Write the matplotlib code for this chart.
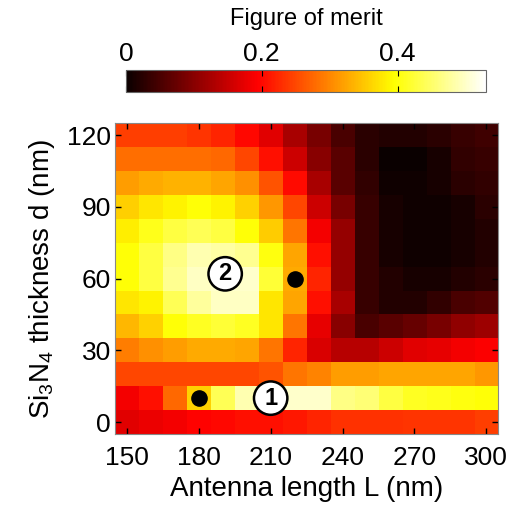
import numpy as np
import matplotlib.pyplot as plt

plt.rcParams['font.family'] = ['Liberation Sans', 'DejaVu Sans']
plt.rcParams['mathtext.fontset'] = 'custom'
plt.rcParams['mathtext.rm'] = 'Liberation Sans'
plt.rcParams['mathtext.it'] = 'Liberation Sans:italic'

# antenna length L (nm) and Si3N4 thickness d (nm)
L = np.arange(150, 301, 10)
d = np.arange(0, 121, 10)

# figure of merit, rows = d (0 -> 120), columns = L (150 -> 300)
fom = np.array([
    [0.170, 0.180, 0.185, 0.196, 0.200, 0.207, 0.207, 0.212, 0.223, 0.233, 0.233, 0.233, 0.236, 0.236, 0.236, 0.244],
    [0.186, 0.207, 0.276, 0.360, 0.440, 0.488, 0.498, 0.503, 0.503, 0.464, 0.456, 0.429, 0.413, 0.408, 0.403, 0.398],
    [0.249, 0.249, 0.249, 0.249, 0.249, 0.249, 0.260, 0.286, 0.297, 0.318, 0.318, 0.323, 0.323, 0.323, 0.323, 0.313],
    [0.292, 0.307, 0.318, 0.329, 0.329, 0.323, 0.286, 0.223, 0.164, 0.138, 0.138, 0.154, 0.170, 0.175, 0.186, 0.191],
    [0.339, 0.360, 0.398, 0.413, 0.424, 0.413, 0.376, 0.286, 0.175, 0.100, 0.050, 0.064, 0.074, 0.087, 0.106, 0.117],
    [0.376, 0.387, 0.440, 0.477, 0.498, 0.498, 0.376, 0.323, 0.207, 0.125, 0.037, 0.019, 0.019, 0.032, 0.050, 0.056],
    [0.398, 0.429, 0.472, 0.498, 0.503, 0.503, 0.424, 0.329, 0.223, 0.111, 0.037, 0.019, 0.012, 0.012, 0.019, 0.025],
    [0.398, 0.429, 0.464, 0.488, 0.482, 0.472, 0.403, 0.323, 0.207, 0.111, 0.037, 0.012, 0.005, 0.005, 0.012, 0.019],
    [0.382, 0.408, 0.429, 0.440, 0.429, 0.398, 0.355, 0.286, 0.186, 0.111, 0.037, 0.012, 0.005, 0.005, 0.012, 0.019],
    [0.358, 0.376, 0.387, 0.398, 0.387, 0.360, 0.313, 0.249, 0.154, 0.087, 0.037, 0.012, 0.005, 0.005, 0.012, 0.025],
    [0.318, 0.329, 0.334, 0.334, 0.323, 0.307, 0.260, 0.201, 0.125, 0.064, 0.032, 0.005, 0.005, 0.012, 0.025, 0.032],
    [0.281, 0.281, 0.281, 0.281, 0.276, 0.249, 0.207, 0.154, 0.100, 0.064, 0.025, 0.000, 0.000, 0.012, 0.032, 0.037],
    [0.244, 0.244, 0.244, 0.236, 0.223, 0.199, 0.170, 0.125, 0.087, 0.050, 0.025, 0.019, 0.019, 0.025, 0.037, 0.042],
])

# marked designs
dots_L = [180, 220]
dots_d = [10, 60]
labels = ['1', '2']
labels_L = [210, 191]
labels_d = [10, 62]

fig = plt.figure(figsize=(5.11, 5.07), dpi=100)
ax = fig.add_axes([0.225, 0.144, 0.75, 0.613])

im = ax.imshow(fom, origin='lower', cmap='hot', vmin=0, vmax=0.53,
               extent=[L[0] - 5, L[-1] + 5, d[0] - 5, d[-1] + 5],
               aspect='auto', interpolation='nearest')

ax.scatter(dots_L, dots_d, s=120, color='black', zorder=3)
for t, x, y in zip(labels, labels_L, labels_d):
    ax.text(x, y, t, ha='center', va='center', fontsize=17, fontweight='bold',
            zorder=4,
            bbox=dict(boxstyle='circle,pad=0.22', fc='white', ec='black', lw=1.8))

ax.set_xticks(np.arange(150, 301, 30))
ax.set_yticks(np.arange(0, 121, 30))
ax.tick_params(direction='in', top=True, right=True, labelsize=19, length=4,
               width=1)
ax.tick_params(axis='x', pad=9)
ax.tick_params(axis='y', pad=3)
for s in ax.spines.values():
    s.set_color('#888888')
ax.set_xlabel('Antenna length L (nm)', fontsize=20, labelpad=4)
ax.set_ylabel('Si$_3$N$_4$ thickness d (nm)', fontsize=20, labelpad=7)

cax = fig.add_axes([0.2466, 0.8185, 0.704, 0.0434])
cb = fig.colorbar(im, cax=cax, orientation='horizontal', ticks=[0, 0.2, 0.4])
cb.ax.xaxis.set_ticks_position('top')
cb.ax.xaxis.set_label_position('top')
cb.ax.set_xticklabels(['0', '0.2', '0.4'])
cb.ax.tick_params(direction='in', top=True, bottom=True, labelsize=19,
                  length=4, pad=3)
cb.outline.set_edgecolor('#666666')
cb.set_label('Figure of merit', fontsize=17, labelpad=12)

fig.savefig('out.png', dpi=100)
